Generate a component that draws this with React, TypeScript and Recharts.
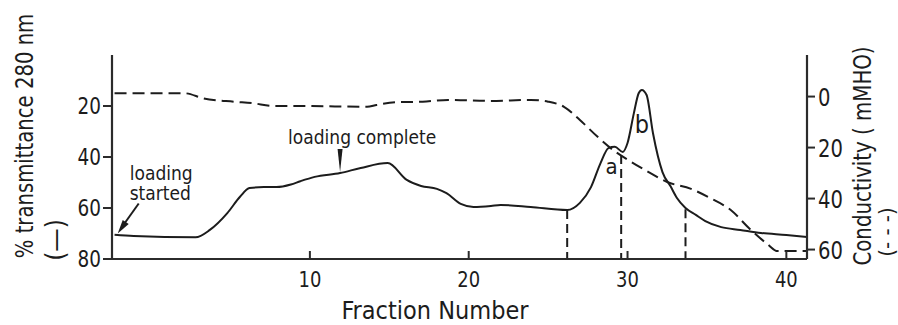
import React from "react";
import {
  LineChart,
  Line,
  XAxis,
  YAxis,
  ReferenceLine,
  ReferenceDot,
  Customized,
} from "recharts";

// % transmittance at 280 nm (solid trace)
const transFractions = [
  -2.3, -1.1, 2.8, 3.7, 4.8, 5.6, 6.2, 7.1, 7.9, 8.8, 9.4, 10.3, 11.9, 13.2,
  14.9, 16.1, 17.0, 18.0, 18.6, 19.5, 20.3, 21.4, 22.0, 23.9, 26.2, 27.0, 27.7,
  28.3, 28.8, 29.2, 29.7, 30.0, 30.4, 30.7, 30.9, 31.2, 31.6, 32.2, 32.7, 33.1,
  33.65, 34.3, 34.9, 35.9, 37.1, 38.4, 40.0, 41.3,
];
const transmittance = [
  70.5, 71, 71.5, 68.6, 62, 55.6, 52.2, 51.8, 51.8, 50.8, 49.5, 47.8, 46.3, 44.3,
  42.4, 49, 51.4, 52.5, 54.2, 58.4, 59.6, 59.2, 58.8, 59.6, 60.8, 58, 51.8, 42.4,
  36.5, 36, 38, 34.5, 22.8, 15, 13.7, 15.7, 30.6, 45.9, 51.4, 56, 60, 62.7, 65.1,
  67.5, 68.6, 69.8, 70.6, 71.4,
];

// conductivity in mMHO (dashed trace)
const condFractions = [
  -2.3, 2.1, 3.3, 5.2, 6.4, 7.7, 9.4, 13.6, 14.2, 15.5, 17.1, 18.7, 21.4, 23.9,
  25.0, 26.0, 27.0, 28.1, 29.1, 30.2, 31.3, 32.5, 34.0, 35.2, 36.5, 37.7, 38.8,
  39.45, 41.3,
];
const conductivity = [
  -1.3, -1.3, 0.7, 2.0, 2.6, 3.7, 3.7, 4.0, 3.3, 2.2, 2.0, 1.3, 1.7, 1.3, 2.0,
  4.0, 9.2, 15.7, 21, 25.5, 29.5, 33.5, 36.2, 39.8, 44.5, 51.9, 57.8, 60.6, 60.6,
];

// pooled fraction cuts: fraction number and where the cut starts on the trace
const cutFractions = [26.2, 29.6, 33.65];
const cutTops = [60.8, 39.2, 60.5];

const xTicks = [10, 20, 30, 40];
const transTicks = [20, 40, 60, 80];
const condTicks = [0, 20, 40, 60];

const FONT = "'DejaVu Sans Condensed', 'DejaVu Sans', sans-serif";
const INK = "#1c1c1c";
const AXIS = "#2b2b2b";

const transData = transFractions.map((f, i) => ({ f, t: transmittance[i] }));
const condData = condFractions.map((f, i) => ({ f, c: conductivity[i] }));

// narrow lettering: condensed face, optionally squeezed along the baseline
function NarrowText({ x, y, size, sx = 1, rotate = 0, anchor = "start", dy, children }: any) {
  return (
    <text
      transform={`translate(${x} ${y}) rotate(${rotate}) scale(${sx} 1)`}
      textAnchor={anchor}
      dy={dy}
      fontSize={size}
      fontFamily={FONT}
      fill={INK}
    >
      {children}
    </text>
  );
}

function FractionTick({ x, y, payload }: any) {
  return (
    <g>
      <line x1={x} y1={y} x2={x} y2={y - 8} stroke={AXIS} strokeWidth={2} />
      <NarrowText x={x} y={y + 28} size={21} sx={0.95} anchor="middle">
        {payload.value}
      </NarrowText>
    </g>
  );
}

function SideTick({ x, y, payload, textAnchor, size, sx }: any) {
  return (
    <NarrowText x={x} y={y} size={size} sx={sx} anchor={textAnchor} dy="0.36em">
      {payload.value}
    </NarrowText>
  );
}

function LoadingStarted({ cx, cy }: any) {
  return (
    <g>
      <line x1={cx + 21} y1={cy - 30} x2={cx + 6} y2={cy - 9} stroke={INK} strokeWidth={2} />
      <polygon
        points={`${cx},${cy} ${cx + 11},${cy - 9.5} ${cx + 5},${cy - 13.5}`}
        fill={INK}
      />
      <NarrowText x={cx + 12} y={cy - 54} size={19}>loading</NarrowText>
      <NarrowText x={cx + 12} y={cy - 34} size={19}>started</NarrowText>
    </g>
  );
}

function LoadingComplete({ cx, cy }: any) {
  return (
    <g>
      <polygon
        points={`${cx - 2.5},${cy - 24} ${cx + 2.5},${cy - 24} ${cx},${cy - 1}`}
        fill={INK}
      />
      <NarrowText x={cx - 52} y={cy - 29} size={19}>loading complete</NarrowText>
    </g>
  );
}

function PeakLabel(text: string, size: number) {
  return ({ cx, cy }: any) => (
    <NarrowText x={cx} y={cy} size={size} anchor="middle">
      {text}
    </NarrowText>
  );
}

function AxisTitles() {
  return (
    <g>
      <NarrowText x={33} y={136} rotate={-90} size={25} sx={0.875} anchor="middle">
        % transmittance 280 nm
      </NarrowText>
      <NarrowText x={64} y={240} rotate={-90} size={26} anchor="middle">
        (—)
      </NarrowText>
      <NarrowText x={871} y={156} rotate={-90} size={25} sx={0.88} anchor="middle">
        Conductivity ( mMHO)
      </NarrowText>
      <NarrowText x={894} y={232} rotate={-90} size={22} anchor="middle">
        (- - -)
      </NarrowText>
      <NarrowText x={435} y={319} size={25} anchor="middle">
        Fraction Number
      </NarrowText>
    </g>
  );
}

export default function App() {
  return (
    <div style={{ position: "absolute", left: 0, top: 0, background: "#fff" }}>
      <LineChart
        width={898}
        height={325}
        margin={{ top: 55, right: 31, bottom: 36, left: 52 }}
      >
        <XAxis
          type="number"
          dataKey="f"
          domain={[-2.46, 41.3]}
          allowDataOverflow
          ticks={xTicks}
          tickSize={0}
          tickMargin={0}
          tickLine={false}
          tick={<FractionTick />}
          height={30}
          axisLine={{ stroke: AXIS, strokeWidth: 2.2 }}
        />
        <XAxis
          xAxisId="top"
          orientation="top"
          type="number"
          dataKey="f"
          domain={[-2.46, 41.3]}
          tick={false}
          tickLine={false}
          height={0}
          axisLine={{ stroke: AXIS, strokeWidth: 2.2 }}
        />
        <YAxis
          yAxisId="t"
          type="number"
          domain={[0, 80]}
          reversed
          ticks={transTicks}
          width={60}
          tickSize={9}
          tickMargin={2}
          tickLine={{ stroke: AXIS, strokeWidth: 2 }}
          axisLine={{ stroke: AXIS, strokeWidth: 2.2 }}
          tick={<SideTick size={23} sx={0.89} />}
        />
        <YAxis
          yAxisId="c"
          orientation="right"
          type="number"
          domain={[-16.3, 63.7]}
          reversed
          ticks={condTicks}
          width={60}
          tickSize={8}
          tickMargin={3}
          tickLine={{ stroke: AXIS, strokeWidth: 2 }}
          axisLine={{ stroke: AXIS, strokeWidth: 2.2 }}
          tick={<SideTick size={25} sx={0.87} />}
        />

        {cutFractions.map((f, i) => (
          <ReferenceLine
            key={f}
            yAxisId="t"
            segment={[
              { x: f, y: cutTops[i] },
              { x: f, y: 80 },
            ]}
            stroke={INK}
            strokeWidth={2}
            strokeDasharray="9 5"
          />
        ))}

        <Line
          yAxisId="c"
          data={condData}
          dataKey="c"
          type="monotone"
          stroke={INK}
          strokeWidth={2}
          strokeDasharray="12 6"
          dot={false}
          isAnimationActive={false}
        />
        <Line
          yAxisId="t"
          data={transData}
          dataKey="t"
          type="monotone"
          stroke={INK}
          strokeWidth={2}
          dot={false}
          isAnimationActive={false}
        />

        <ReferenceDot yAxisId="t" x={-2.1} y={70} r={0} shape={LoadingStarted} />
        <ReferenceDot yAxisId="t" x={11.9} y={46.3} r={0} shape={LoadingComplete} />
        <ReferenceDot yAxisId="t" x={29.0} y={46.7} r={0} shape={PeakLabel("a", 22)} />
        <ReferenceDot yAxisId="t" x={30.9} y={30.6} r={0} shape={PeakLabel("b", 25)} />

        <Customized component={AxisTitles} />
      </LineChart>
    </div>
  );
}
